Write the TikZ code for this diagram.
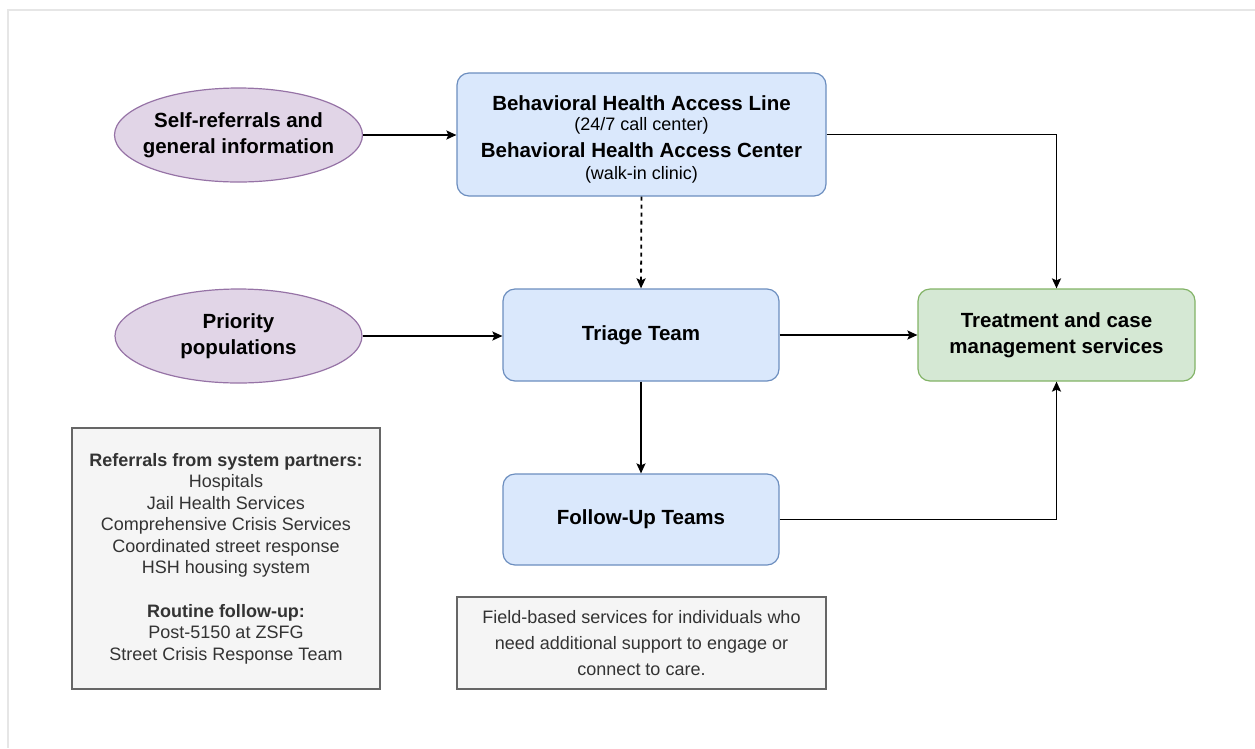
\documentclass[tikz,border=0pt]{standalone}
\usepackage{fontspec}
\setmainfont{Liberation Sans}
\usepackage{tikz}
\usetikzlibrary{arrows.meta,shapes.geometric}
\definecolor{ovalfill}{HTML}{E1D5E7}
\definecolor{ovalline}{HTML}{9673A6}
\definecolor{bluefill}{HTML}{DAE8FC}
\definecolor{blueline}{HTML}{6C8EBF}
\definecolor{greenfill}{HTML}{D5E8D4}
\definecolor{greenline}{HTML}{82B366}
\definecolor{notefill}{HTML}{F5F5F5}
\definecolor{noteline}{HTML}{666666}
\definecolor{notetext}{HTML}{333333}
\definecolor{framegray}{HTML}{E6E6E6}

\begin{document}
\begin{tikzpicture}[x=1pt, y=-1pt,
    bigfont/.style={font=\fontsize{20.5}{26}\selectfont\bfseries},
    oval/.style={ellipse, draw=ovalline, fill=ovalfill, line width=1.2pt,
      minimum width=247pt, minimum height=94pt, inner xsep=-8pt, inner ysep=0pt,
      align=center, bigfont},
    bluebox/.style={rectangle, rounded corners=12pt, draw=blueline, fill=bluefill,
      line width=1.2pt, inner sep=0pt, align=center, bigfont},
    greenbox/.style={rectangle, rounded corners=12pt, draw=greenline, fill=greenfill,
      line width=1.2pt, inner sep=0pt, align=center, bigfont},
    notebox/.style={rectangle, draw=noteline, fill=notefill, line width=1.2pt,
      inner sep=0pt, align=center, text=notetext},
    arr/.style={line width=1.8pt, -{Stealth[length=10pt,width=9pt,inset=2pt]}}]
  \useasboundingbox (0,0) rectangle (1255,748);
  \draw[framegray, line width=2pt] (8,748) -- (8,10) -- (1255,10);

  % left column
  \node[oval] (selfref) at (238.5,135) {Self-referrals and\\general information};
  \node[oval] (priority) at (238.5,336) {Priority\\populations};
  \node[notebox, minimum width=308pt, minimum height=261pt,
    font=\fontsize{18}{21.5}\selectfont] (partners) at (226,558.5)
    {\textbf{Referrals from system partners:}\\Hospitals\\Jail Health Services\\
     Comprehensive Crisis Services\\Coordinated street response\\
     HSH housing system\\[22pt]\textbf{Routine follow-up:}\\Post-5150 at ZSFG\\
     Street Crisis Response Team};

  % middle column
  \node[bluebox, minimum width=369pt, minimum height=123pt] (access) at (641.5,134.5)
    {\fontsize{20.5}{22}\selectfont\rule{0pt}{25pt}Behavioral Health Access Line\\[-6pt]
     {\mdseries\fontsize{18}{21}\selectfont (24/7 call center)}\\[1pt]
     Behavioral Health Access Center\\[-4pt]
     {\mdseries\fontsize{18}{21}\selectfont (walk-in clinic)}};
  \node[bluebox, minimum width=276pt, minimum height=92pt] (triage) at (641,335) {Triage Team};
  \node[bluebox, minimum width=276pt, minimum height=91pt] (followup) at (641,519.5) {Follow-Up Teams};
  \node[notebox, minimum width=369pt, minimum height=92pt,
    font=\fontsize{18}{26}\selectfont] (fieldnote) at (641.5,643)
    {Field-based services for individuals who\\need additional support to engage or\\connect to care.};

  % right column
  \node[greenbox, minimum width=277pt, minimum height=92pt] (treat) at (1056.5,335)
    {Treatment and case\\management services};

  % connectors
  \draw[arr] (selfref.east) -- (selfref.east -| access.west);
  \draw[arr] (access.east) -| (treat.north);
  \draw[arr, dash pattern=on 4pt off 4pt] (access.south) -- (triage.north);
  \draw[arr] (priority.east) -- (priority.east -| triage.west);
  \draw[arr] (triage.east) -- (treat.west);
  \draw[arr] (triage.south) -- (followup.north);
  \draw[arr] (followup.east) -| (treat.south);
\end{tikzpicture}
\end{document}
